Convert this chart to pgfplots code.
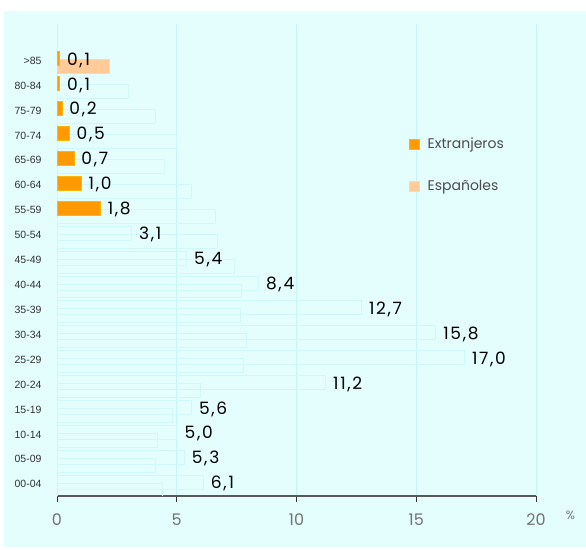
\documentclass[border=0pt]{standalone}
\usepackage{fontspec}
\usepackage{pgfplots}
\pgfplotsset{compat=1.18}
\setmainfont{Liberation Sans}
\newfontfamily\pop{Poppins}
\newfontfamily\popw{Poppins}[LetterSpace=10]

\definecolor{bgc}{HTML}{E4FEFE}
\definecolor{gridc}{HTML}{C6F4F7}
\definecolor{faint}{HTML}{D0F8FA}
\definecolor{ext}{HTML}{FF9900}
\definecolor{esp}{HTML}{FFCC99}

\begin{document}
\begin{tikzpicture}
\useasboundingbox (-57bp,-54bp) rectangle (529bp,496bp);
\fill[bgc] (-53bp,-51bp) rectangle (529bp,485bp);
\begin{axis}[
    at={(0,0)}, anchor=south west,
    scale only axis,
    width=479bp, height=472bp,
    xbar, bar width=0.56,
    xmin=0, xmax=20,
    ymin=-0.47, ymax=18.47,
    xtick={0,5,10,15,20},
    ytick={0,...,17},
    yticklabels={00-04,05-09,10-14,15-19,20-24,25-29,30-34,35-39,40-44,45-49,50-54,55-59,60-64,65-69,70-74,75-79,80-84,>85},
    axis lines*=left,
    y axis line style={draw=none},
    x axis line style={-, draw=black!65, line width=1.4bp},
    ytick style={draw=none},
    xtick style={draw=black!80, line width=0.8bp},
    tick align=outside,
    major tick length=6bp,
    xmajorgrids,
    grid style={draw=gridc, line width=0.8bp},
    /pgf/number format/assume math mode=true,
    xticklabel style={font=\pop\fontsize{16bp}{18bp}\selectfont, text=black!55, yshift=-8bp},
    yticklabel style={font=\fontsize{10.5bp}{12bp}\selectfont, text=black!80, xshift=-6bp},
    reverse legend,
    legend style={at={(0.735,0.7626)}, anchor=north west, draw=none, fill=none,
        inner sep=0pt, row sep=26bp, font=\pop\fontsize{14bp}{16bp}\selectfont,
        text=black!70, /tikz/every odd column/.append style={column sep=6bp}},
    legend cell align=left,
    legend image code/.code={\fill[#1] (0bp,-5bp) rectangle (10bp,5bp);},
    point meta=explicit symbolic,
]
% Espanoles
\addplot[fill=esp, draw=esp!80!white, bar shift=-0.24] coordinates {(2.2,17)};
\addlegendentry{Españoles}
\addplot[fill=none, draw=faint, line width=0.8bp, bar shift=-0.24, forget plot] coordinates {
    (4.4,0)(4.1,1)(4.2,2)(4.8,3)(6.0,4)(7.8,5)(7.9,6)(7.65,7)(7.7,8)
    (7.4,9)(6.7,10)(6.6,11)(5.6,12)(4.5,13)(5.0,14)(4.1,15)(3.0,16)};
% Extranjeros
\addplot[fill=ext, draw=ext!70!yellow, bar shift=0.08,
    nodes near coords={\pgfplotspointmeta},
    nodes near coords style={anchor=base west, inner sep=0pt, xshift=7.5bp, yshift=-6.5bp,
        font=\popw\fontsize{17bp}{19bp}\selectfont, text=black}]
    coordinates {(1.8,11)[1,8] (1.0,12)[1,0] (0.7,13)[0,7] (0.5,14)[0,5]
    (0.2,15)[0,2] (0.1,16)[0,1] (0.1,17)[0,1]};
\addlegendentry{Extranjeros}
\addplot[fill=none, draw=faint, line width=0.8bp, bar shift=0.08, forget plot,
    nodes near coords={\pgfplotspointmeta},
    nodes near coords style={anchor=base west, inner sep=0pt, xshift=7.5bp, yshift=-6.5bp,
        font=\popw\fontsize{17bp}{19bp}\selectfont, text=black}]
    coordinates {(6.1,0)[6,1] (5.3,1)[5,3] (5.0,2)[5,0] (5.6,3)[5,6] (11.2,4)[11,2]
    (17.0,5)[17,0] (15.8,6)[15,8] (12.7,7)[12,7] (8.4,8)[8,4] (5.4,9)[5,4] (3.1,10)[3,1]};
\end{axis}
\node[font=\pop\fontsize{12bp}{14bp}\selectfont, text=black!55] at (513.5bp,-19bp) {\%};
\end{tikzpicture}
\end{document}
